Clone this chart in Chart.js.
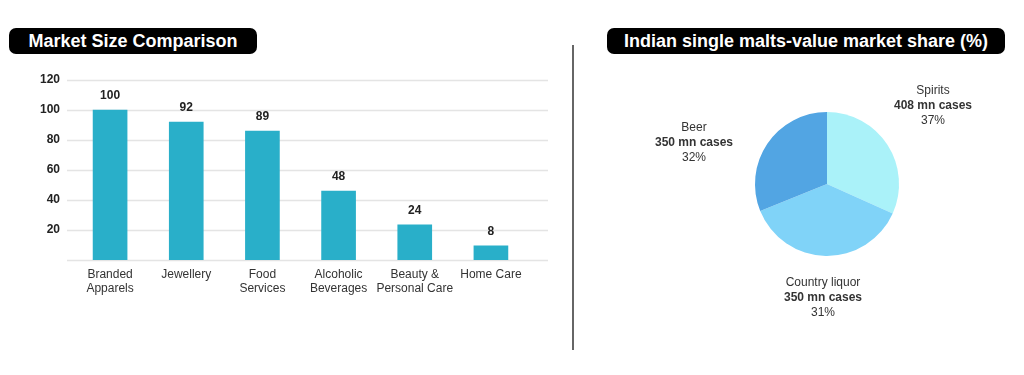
<!DOCTYPE html>
<html>
<head>
<meta charset="utf-8">
<script src="https://cdn.jsdelivr.net/npm/chart.js@4/dist/chart.umd.min.js"></script>
<style>
  html, body { margin: 0; padding: 0; background: #fff; }
  body { width: 1024px; height: 375px; position: relative; overflow: hidden; font-family: 'Liberation Sans', Arial, Helvetica, sans-serif; }
  .pill { position: absolute; top: 28px; height: 26px; line-height: 26px; background: #000; color: #fff; font-weight: bold; font-size: 18px; border-radius: 7px; text-align: center; }
  .divider { position: absolute; left: 572px; top: 45px; width: 2px; height: 305px; background: #666; }
  canvas { position: absolute; }
</style>
</head>
<body>
<div class="pill" style="left:9px;width:248px;">Market Size Comparison</div>
<div class="pill" style="left:607px;width:398px;">Indian single malts-value market share (%)</div>
<div class="divider"></div>
<canvas id="barChart" width="570" height="260" style="left:0;top:60px;"></canvas>
<canvas id="pieChart" width="444" height="300" style="left:580px;top:60px;"></canvas>
<script>
// bar chart data
const categories = [['Branded', 'Apparels'], 'Jewellery', ['Food', 'Services'], ['Alcoholic', 'Beverages'], ['Beauty &', 'Personal Care'], 'Home Care'];
const barHeights = [100, 92, 86, 46, 23.5, 9.5];
const valueLabels = ['100', '92', '89', '48', '24', '8'];
const yTicks = [0, 20, 40, 60, 80, 100, 120];

// pie chart data
const sliceNames = ['Spirits', 'Country liquor', 'Beer'];
const sliceCases = ['408 mn cases', '350 mn cases', '350 mn cases'];
const slicePercents = ['37%', '31%', '32%'];
const sliceShares = [31.7, 37.2, 31.1];

const FONT = "'Liberation Sans', Arial, Helvetica, sans-serif";
Chart.defaults.font.family = FONT;
Chart.defaults.animation = false;

const gridPlugin = {
  id: 'wideGrid',
  beforeDatasetsDraw(chart) {
    const { ctx, chartArea, scales } = chart;
    ctx.save();
    ctx.strokeStyle = '#e4e4e4';
    ctx.lineWidth = 1.5;
    yTicks.forEach(v => {
      const y = Math.round(scales.y.getPixelForValue(v)) + 0.5;
      ctx.beginPath();
      ctx.moveTo(chartArea.left - 5, y);
      ctx.lineTo(chartArea.right + 19, y);
      ctx.stroke();
    });
    ctx.restore();
  },
  afterDatasetsDraw(chart) {
    const { ctx } = chart;
    const bars = chart.getDatasetMeta(0).data;
    ctx.save();
    ctx.font = 'bold 12px ' + FONT;
    ctx.fillStyle = '#222';
    ctx.textAlign = 'center';
    ctx.textBaseline = 'middle';
    bars.forEach((bar, i) => ctx.fillText(valueLabels[i], bar.x, bar.y - 14));
    ctx.restore();
  }
};

new Chart(document.getElementById('barChart'), {
  type: 'bar',
  data: {
    labels: categories,
    datasets: [{ data: barHeights, backgroundColor: '#29afc9', borderWidth: 0, barThickness: 34 }]
  },
  options: {
    responsive: false,
    devicePixelRatio: 1,
    layout: { padding: { left: 0, right: 41, top: 20, bottom: 0 } },
    plugins: { legend: { display: false }, tooltip: { enabled: false } },
    scales: {
      x: {
        grid: { display: false, drawTicks: false },
        border: { display: false },
        ticks: { color: '#333', padding: 8, font: { size: 12, lineHeight: 1.17 }, maxRotation: 0, autoSkip: false },
        afterFit: s => { s.height = 60; }
      },
      y: {
        min: 0, max: 120,
        grid: { display: false, drawTicks: false },
        border: { display: false },
        ticks: { stepSize: 20, color: '#222', padding: 12, font: { size: 12, weight: 'bold' }, callback: v => v === 0 ? '' : v },
        afterFit: s => { s.width = 72; }
      }
    }
  },
  plugins: [gridPlugin]
});

// label offsets from pie centre, per slice
const labelOffsets = [[106, -78], [-4, 114], [-133, -41]];

const pieLabels = {
  id: 'pieLabels',
  afterDraw(chart) {
    const { ctx } = chart;
    const arcs = chart.getDatasetMeta(0).data;
    ctx.save();
    ctx.fillStyle = '#333';
    ctx.textAlign = 'center';
    ctx.textBaseline = 'middle';
    arcs.forEach((arc, i) => {
      const x = arc.x + labelOffsets[i][0];
      const y = arc.y + labelOffsets[i][1];
      ctx.font = '12px ' + FONT;
      ctx.fillText(sliceNames[i], x, y - 15);
      ctx.font = 'bold 12px ' + FONT;
      ctx.fillText(sliceCases[i], x, y);
      ctx.font = '12px ' + FONT;
      ctx.fillText(slicePercents[i], x, y + 15);
    });
    ctx.restore();
  }
};

new Chart(document.getElementById('pieChart'), {
  type: 'pie',
  data: {
    labels: sliceNames,
    datasets: [{ data: sliceShares, backgroundColor: ['#aaf2f9', '#80d3f8', '#52a5e3'], borderWidth: 0 }]
  },
  options: {
    responsive: false,
    devicePixelRatio: 1,
    layout: { padding: { left: 175, top: 52, right: 125, bottom: 104 } },
    plugins: { legend: { display: false }, tooltip: { enabled: false } }
  },
  plugins: [pieLabels]
});
</script>
</body>
</html>
